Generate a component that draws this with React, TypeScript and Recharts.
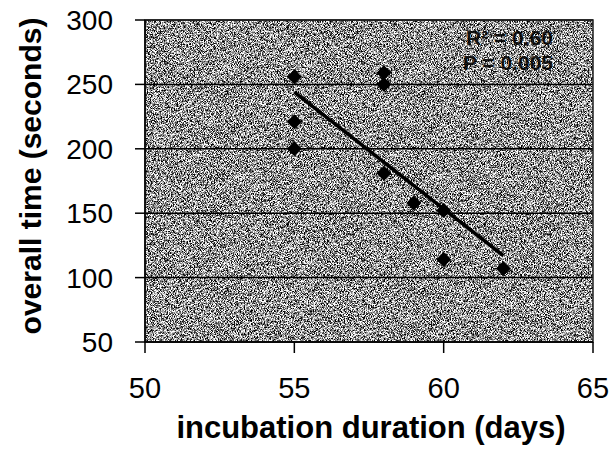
import { ScatterChart, Scatter, XAxis, YAxis, CartesianGrid, ReferenceArea } from 'recharts';

// incubation duration (days) vs overall time (seconds)
const incubationDays = [55, 55, 55, 58, 58, 58, 59, 60, 60, 62];
const overallTime = [256, 221, 200, 259, 250, 181, 158, 152, 114, 107];

// regression line end points
const fitDays = [55, 62];
const fitTime = [244, 117];

const xTicks = [50, 55, 60, 65];
const yTicks = [50, 100, 150, 200, 250, 300];
const statLines = ['R² = 0.60', 'P = 0.005'];

const FONT = '"Liberation Sans", Arial, sans-serif';

const points = incubationDays.map((d, i) => ({ x: d, y: overallTime[i] }));
const fitData = fitDays.map((d, i) => ({ x: d, y: fitTime[i] }));

const YTitle = (props: any) => {
  const vb = props.viewBox || {};
  const cx = 30;
  const cy = vb.y + vb.height / 2 - 5;
  return (
    <text
      x={cx}
      y={cy}
      transform={`rotate(-90 ${cx} ${cy})`}
      textAnchor="middle"
      dominantBaseline="central"
      fontFamily={FONT}
      fontWeight="bold"
      fontSize={30}
      fill="#000"
    >
      overall time (seconds)
    </text>
  );
};

const XTitle = (props: any) => {
  const vb = props.viewBox || {};
  return (
    <text
      x={vb.x + vb.width / 2 + 2}
      y={vb.y + 96}
      textAnchor="middle"
      fontFamily={FONT}
      fontWeight="bold"
      fontSize={31}
      fill="#000"
    >
      incubation duration (days)
    </text>
  );
};

const Stats = (props: any) => {
  const vb = props.viewBox || {};
  const right = vb.x + vb.width - 40;
  return (
    <g>
      {statLines.map((s, i) => (
        <text
          key={s}
          x={right}
          y={vb.y + 25 + i * 25}
          textAnchor="end"
          fontFamily={FONT}
          fontWeight="bold"
          fontSize={21}
          fill="#000"
          fillOpacity={0.9}
        >
          {s}
        </text>
      ))}
    </g>
  );
};

// square diamond marker centred on the point the scales give
const Diamond = (props: any) => {
  const { cx, cy } = props;
  const r = 7.5;
  return <polygon points={`${cx},${cy - r} ${cx + r},${cy} ${cx},${cy + r} ${cx - r},${cy}`} fill="#000" />;
};

const noShape = () => <g />;

export default function App() {
  return (
    <div style={{ position: 'absolute', left: 0, top: 0, width: 616, height: 453, background: '#fff' }}>
      <svg width={0} height={0} style={{ position: 'absolute' }}>
        <defs>
          <filter id="grain" x="0" y="0" width="100%" height="100%" colorInterpolationFilters="sRGB">
            <feTurbulence type="fractalNoise" baseFrequency="1.3" numOctaves={1} seed={3} result="n" />
            <feColorMatrix
              in="n"
              type="matrix"
              values="3.6 0 0 0 -1.22  3.6 0 0 0 -1.22  3.6 0 0 0 -1.22  0 0 0 0 1"
            />
          </filter>
          <pattern id="noise" patternUnits="userSpaceOnUse" x={0} y={0} width={616} height={453}>
            <rect x={0} y={0} width={616} height={453} filter="url(#grain)" />
          </pattern>
        </defs>
      </svg>
      <ScatterChart width={616} height={453} margin={{ top: 20, right: 23, bottom: 11, left: 0 }}>
        <CartesianGrid vertical={false} fill="url(#noise)" fillOpacity={1} stroke="#000" strokeWidth={1.5} />
        <XAxis
          type="number"
          dataKey="x"
          domain={[50, 65]}
          ticks={xTicks}
          interval={0}
          height={100}
          tickSize={11}
          tickMargin={24}
          axisLine={{ stroke: '#000', strokeWidth: 1.5 }}
          tickLine={{ stroke: '#000', strokeWidth: 1.5 }}
          tick={{ fill: '#000', fontSize: 29, fontFamily: FONT }}
          label={<XTitle />}
        />
        <YAxis
          type="number"
          dataKey="y"
          domain={[50, 300]}
          ticks={yTicks}
          interval={0}
          width={145}
          tickSize={10}
          tickMargin={22}
          axisLine={{ stroke: '#000', strokeWidth: 1.5 }}
          tickLine={{ stroke: '#000', strokeWidth: 1.5 }}
          tick={{ fill: '#000', fontSize: 28, fontFamily: FONT }}
          label={<YTitle />}
        />
        <ReferenceArea
          x1={50}
          x2={65}
          y1={50}
          y2={300}
          fill="none"
          stroke="#222"
          strokeWidth={1.5}
          label={<Stats />}
        />
        <Scatter data={points} fill="#000" shape={<Diamond />} isAnimationActive={false} />
        <Scatter
          data={fitData}
          line={{ stroke: '#000', strokeWidth: 3.5 }}
          shape={noShape}
          isAnimationActive={false}
        />
      </ScatterChart>
    </div>
  );
}
